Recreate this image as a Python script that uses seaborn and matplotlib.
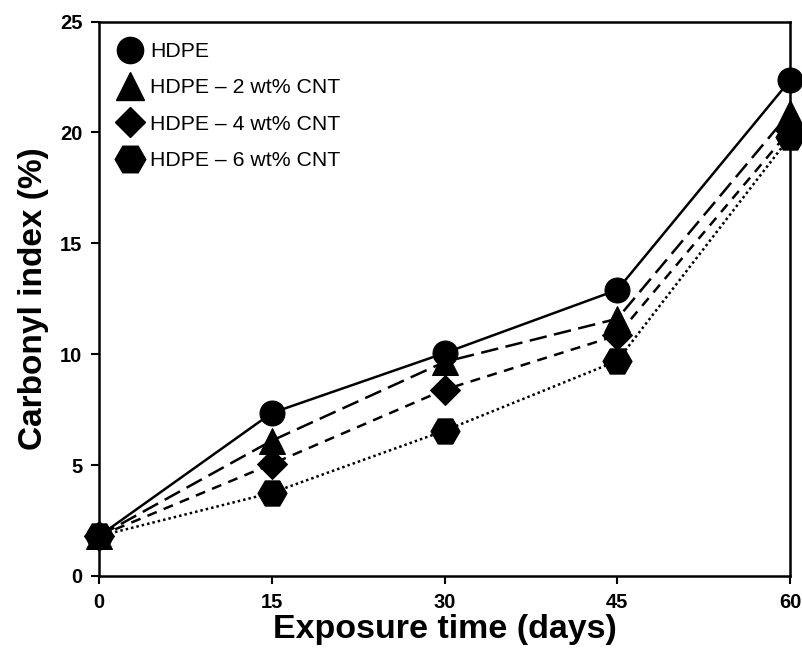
import matplotlib
matplotlib.use("Agg")
import matplotlib.pyplot as plt
from matplotlib.lines import Line2D
import seaborn as sns
import pandas as pd

days = [0, 15, 30, 45, 60]
series_names = ["HDPE", "HDPE \u2013 2 wt% CNT", "HDPE \u2013 4 wt% CNT", "HDPE \u2013 6 wt% CNT"]
hdpe = [1.8, 7.35, 10.05, 12.9, 22.35]
hdpe_2 = [1.8, 6.1, 9.65, 11.6, 20.9]
hdpe_4 = [1.8, 5.05, 8.4, 10.85, 20.1]
hdpe_6 = [1.8, 3.75, 6.55, 9.7, 19.8]
x_ticks = [0, 15, 30, 45, 60]
y_ticks = [0, 5, 10, 15, 20, 25]

values = [hdpe, hdpe_2, hdpe_4, hdpe_6]
markers = ["o", "^", "D", "H"]
msizes = [18, 19, 15, 21]
dash_styles = ["", (7, 3), (4, 3), (1, 1.2)]

rows = []
for name, vals in zip(series_names, values):
    for d, v in zip(days, vals):
        rows.append({"days": d, "ci": v, "series": name})
df = pd.DataFrame(rows)

sns.set_theme(style="white", rc={"text.color": "black", "axes.labelcolor": "black",
                                 "xtick.color": "black", "ytick.color": "black",
                                 "axes.edgecolor": "black"})
plt.rcParams["font.family"] = ["Liberation Sans", "DejaVu Sans"]

fig = plt.figure(figsize=(8.03, 6.54), dpi=100)
ax = fig.add_axes([0.1233, 0.1193, 0.8605, 0.8477])

for name, mk, ms, ds in zip(series_names, markers, msizes, dash_styles):
    sub = df[df["series"] == name]
    line_kw = dict(color="black", linewidth=1.8, marker=mk, markersize=ms,
                   markeredgecolor="black", markerfacecolor="black", clip_on=False)
    sns.lineplot(data=sub, x="days", y="ci", ax=ax, legend=False, **line_kw)
    l = ax.lines[-1]
    if ds:
        l.set_dashes(ds)
    l.set_markersize(ms)

ax.set_xlim(0, 60)
ax.set_ylim(0, 25)
ax.set_xticks(x_ticks)
ax.set_yticks(y_ticks)
ax.set_xticklabels([str(t) for t in x_ticks], fontsize=14.5, fontweight="bold", color="black")
ax.set_yticklabels([str(t) for t in y_ticks], fontsize=14.5, fontweight="bold", color="black")
ax.tick_params(axis="both", direction="out", length=6, width=1.5, color="black", pad=6,
               bottom=True, left=True)
for s in ax.spines.values():
    s.set_color("black")
    s.set_linewidth(1.8)

ax.set_xlabel("Exposure time (days)", fontsize=24.5, fontweight="bold", labelpad=2, color="black")
ax.set_ylabel("Carbonyl index (%)", fontsize=24, fontweight="bold", labelpad=8, color="black")

handles = [Line2D([], [], linestyle="none", marker=mk, markersize=ms * 1.05, color="black")
           for mk, ms in zip(markers, msizes)]
leg = ax.legend(handles, series_names, loc="upper left", frameon=False, fontsize=15.3,
                handletextpad=0.2, labelspacing=0.82, borderaxespad=0.3, handlelength=1.5,
                bbox_to_anchor=(0.0, 0.99))
for t in leg.get_texts():
    t.set_color("black")

fig.savefig("out.png", dpi=100)
